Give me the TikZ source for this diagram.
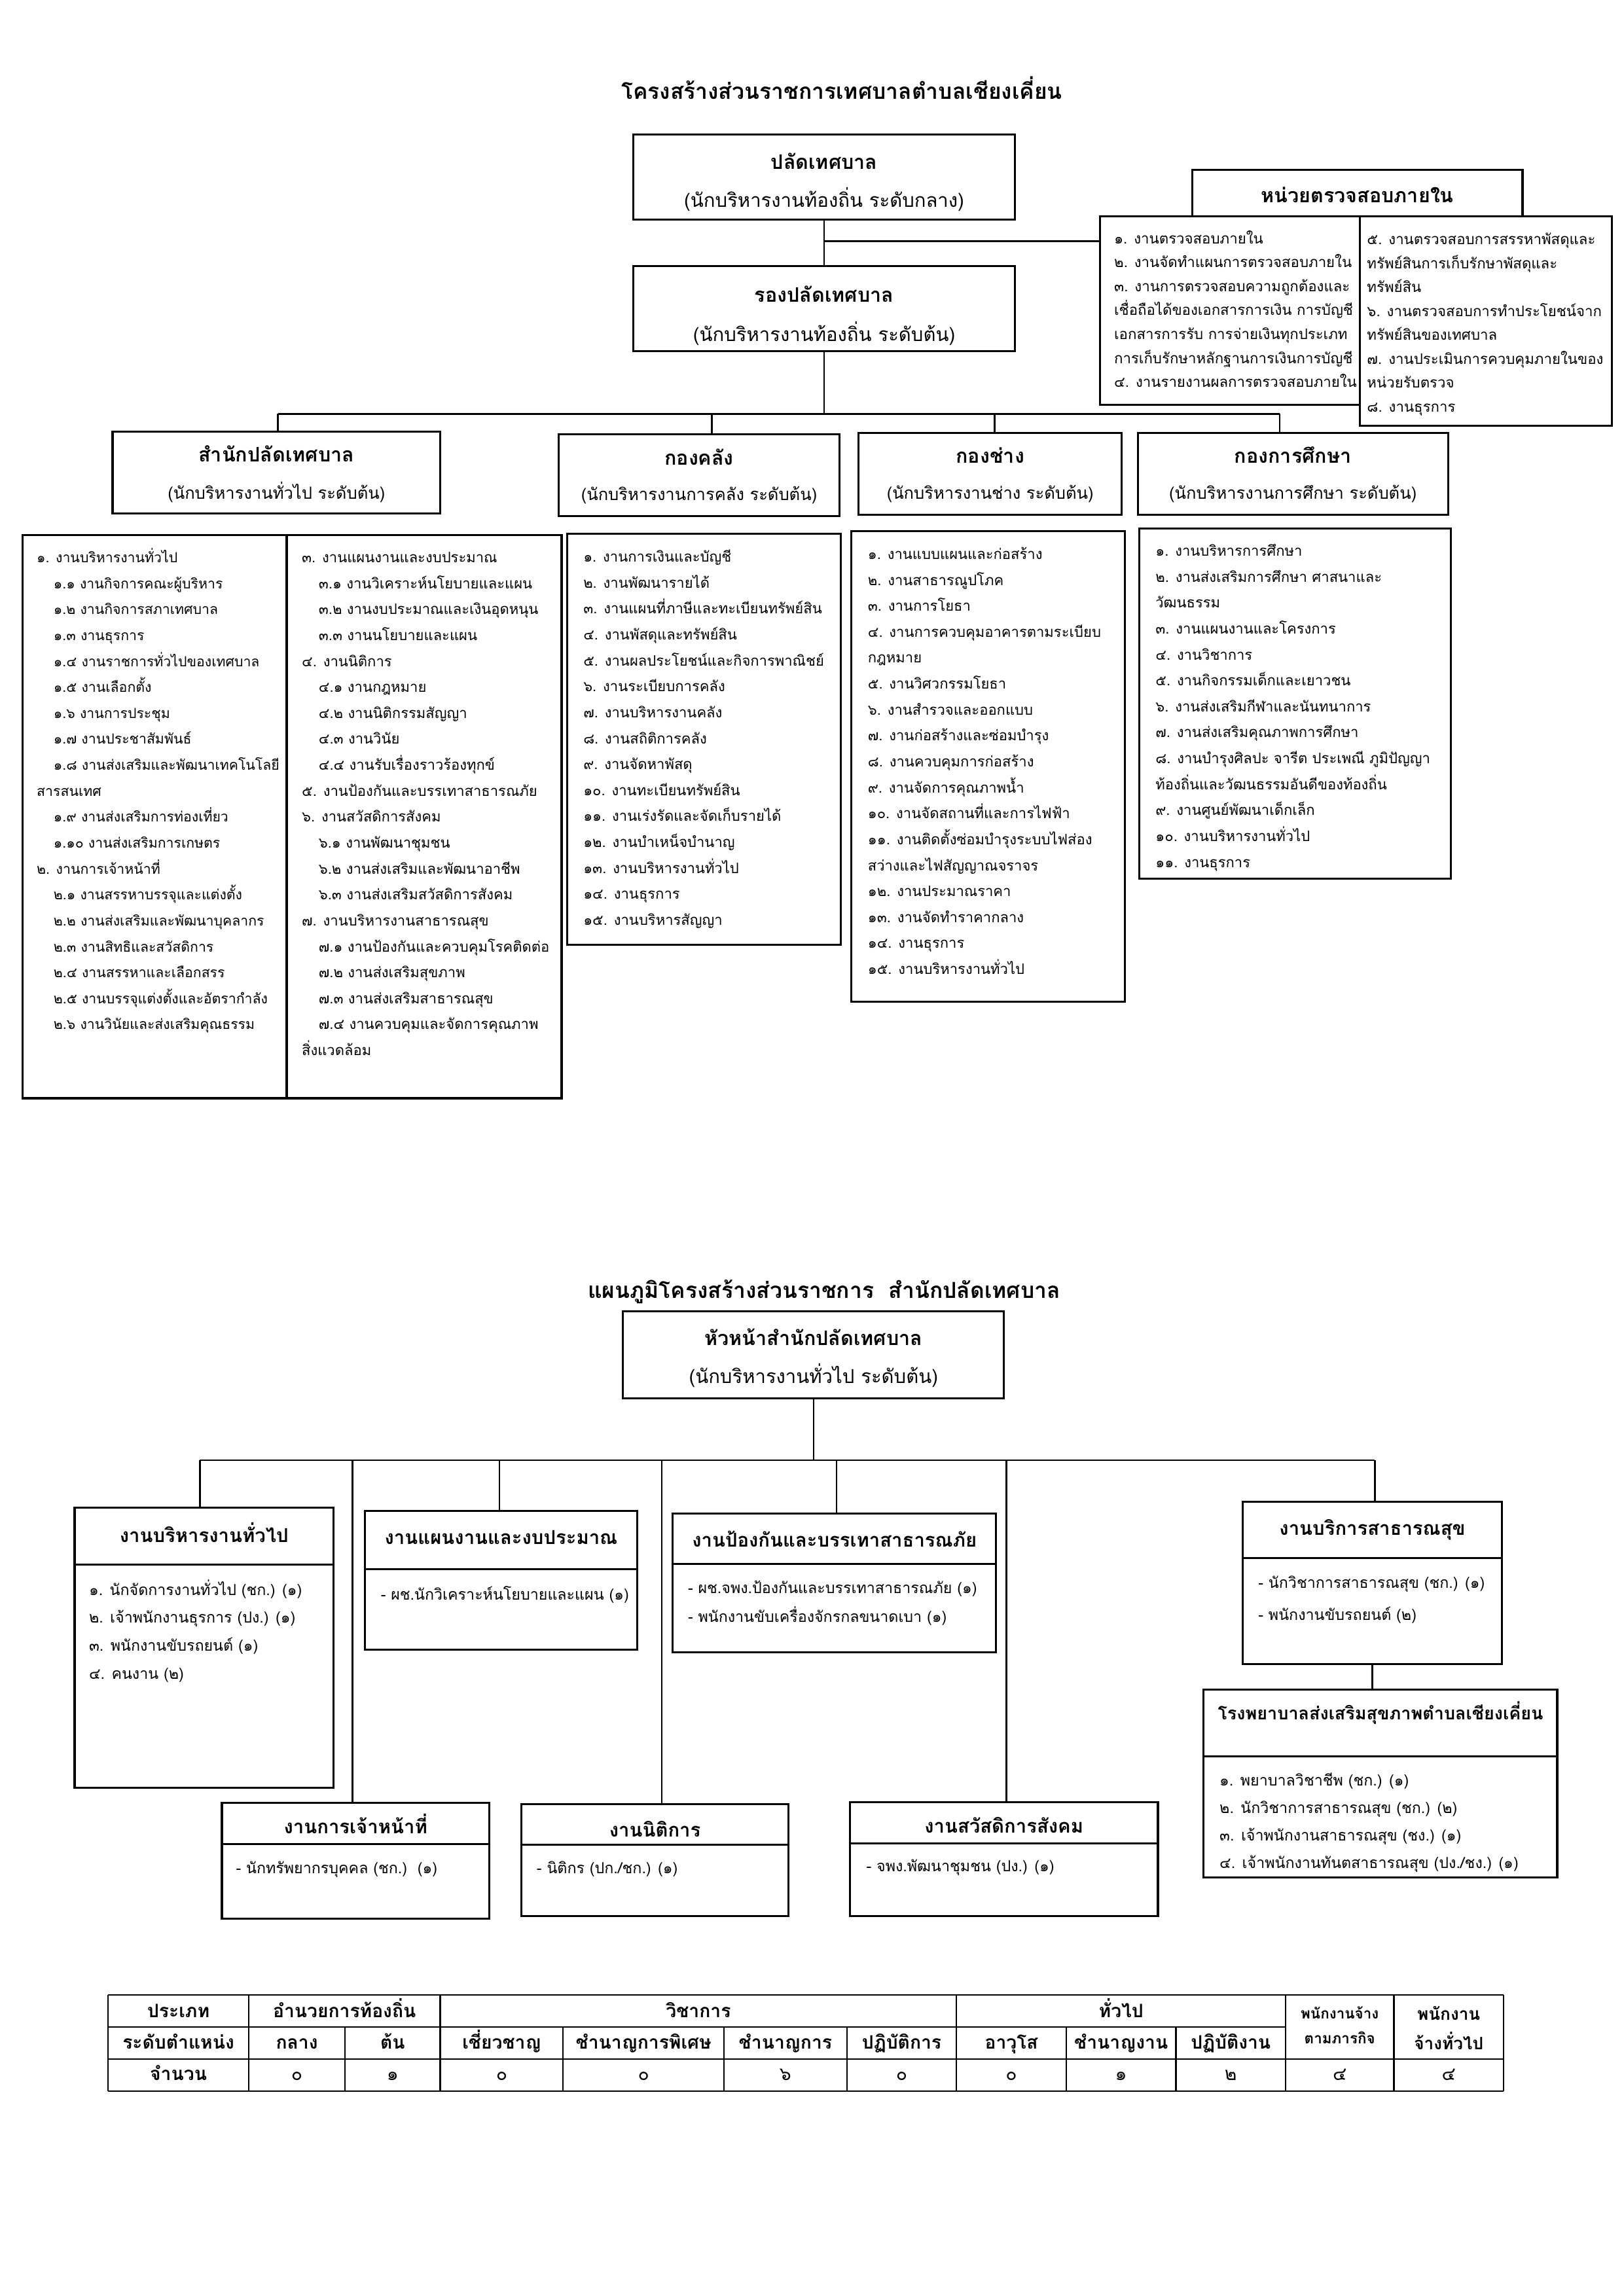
\documentclass[tikz,border=0pt]{standalone}
\usepackage{fontspec}
\setmainfont[Script=Thai]{Loma}
\usetikzlibrary{fit}
\newcommand\ftitle{\fontsize{8.1}{10}\selectfont\bfseries}
\newcommand\fhead{\fontsize{7.35}{9}\selectfont\bfseries}
\newcommand\fheadb{\fontsize{7.05}{9}\selectfont\bfseries}
\newcommand\fsubt{\fontsize{7.05}{9}\selectfont}
\newcommand\fsubd{\fontsize{6.15}{8}\selectfont}
\newcommand\flist{\fontsize{5.3}{9.55}\selectfont}
\newcommand\flists{\fontsize{5.12}{9.55}\selectfont}
\newcommand\faud{\fontsize{5.35}{8.8}\selectfont}
\newcommand\ftab{\fontsize{6.8}{8}\selectfont\bfseries}
\newcommand\ftabn{\fontsize{6.8}{8}\selectfont}
\newcommand\firstl{\rule{0pt}{7pt}}
\newcommand\ind{\hspace*{6.2pt}}
\begin{document}
\begin{tikzpicture}[x=0.018919cm,y=-0.018919cm,
  box/.style={draw,line width=0.75pt,inner sep=0pt},
  conn/.style={line width=0.6pt},
  tab/.style={line width=0.55pt},
  txt/.style={inner sep=0pt,anchor=base},
  lst/.style={inner sep=0pt,anchor=north west,align=left}]
\useasboundingbox (0,0) rectangle (1110,1570);

% ---------------- Section 1 ----------------
\node[txt,font=\ftitle] (title1) at (575.5,68) {โครงสร้างส่วนราชการเทศบาลตำบลเชียงเคี่ยน};

\node[box,fit={(433,92)(694,150)}] (palad) {};
\node[txt,font=\fhead] (paladT) at (563.5,115.7) {ปลัดเทศบาล};
\node[txt,font=\fsubt] (paladS) at (563.5,141.8) {(นักบริหารงานท้องถิ่น ระดับกลาง)};

\node[box,fit={(433,182)(694,240)}] (rong) {};
\node[txt,font=\fhead] (rongT) at (563.5,206.7) {รองปลัดเทศบาล};
\node[txt,font=\fsubt] (rongS) at (563.5,233.5) {(นักบริหารงานท้องถิ่น ระดับต้น)};

\node[box,fit={(752,148)(929.6,277)}] (auditL) {};
\node[box,fit={(929.6,148)(1102,291)}] (auditR) {};
\node[box,fill=white,fit={(815,116)(1041,148)}] (auditH) {};
\node[txt,font=\fhead] (auditHT) at (928,138.7) {หน่วยตรวจสอบภายใน};

\node[lst,font=\faud] (auditLT) at (761.4,153.3) {\firstl ๑. งานตรวจสอบภายใน\\%
๒. งานจัดทำแผนการตรวจสอบภายใน\\%
๓. งานการตรวจสอบความถูกต้องและ\\%
เชื่อถือได้ของเอกสารการเงิน การบัญชี\\%
เอกสารการรับ การจ่ายเงินทุกประเภท\\%
การเก็บรักษาหลักฐานการเงินการบัญชี\\%
๔. งานรายงานผลการตรวจสอบภายใน};

\node[lst,font=\faud] (auditRT) at (934.3,153.8) {\firstl ๕. งานตรวจสอบการสรรหาพัสดุและ\\%
ทรัพย์สินการเก็บรักษาพัสดุและ\\%
ทรัพย์สิน\\%
๖. งานตรวจสอบการทำประโยชน์จาก\\%
ทรัพย์สินของเทศบาล\\%
๗. งานประเมินการควบคุมภายในของ\\%
หน่วยรับตรวจ\\%
๘. งานธุรการ};

% departments
\node[box,fit={(77,295)(301,351)}] (sp) {};
\node[txt,font=\fhead] (spT) at (189,315.8) {สำนักปลัดเทศบาล};
\node[txt,font=\fsubd] (spS) at (189,341.3) {(นักบริหารงานทั่วไป ระดับต้น)};

\node[box,fit={(382,297)(574,353)}] (klang) {};
\node[txt,font=\fhead] (klangT) at (478,317.8) {กองคลัง};
\node[txt,font=\fsubd] (klangS) at (478,342.3) {(นักบริหารงานการคลัง ระดับต้น)};

\node[box,fit={(587,296)(767,352)}] (chang) {};
\node[txt,font=\fhead] (changT) at (677,316.8) {กองช่าง};
\node[txt,font=\fsubd] (changS) at (677,341.3) {(นักบริหารงานช่าง ระดับต้น)};

\node[box,fit={(778,296)(990,352)}] (suksa) {};
\node[txt,font=\fhead] (suksaT) at (884,316.8) {กองการศึกษา};
\node[txt,font=\fsubd] (suksaS) at (884,341.3) {(นักบริหารงานการศึกษา ระดับต้น)};

% connectors section 1
\coordinate (aud) at (752,165);
\draw[conn] (palad.south) -- (rong.north);
\draw[conn] (palad.south |- aud) -- (aud -| auditL.west);
\coordinate (barL) at (190,283);
\coordinate (barR) at (875,283);
\coordinate (d2) at (486.6,283);
\coordinate (d3) at (680,283);
\draw[conn] (rong.south) -- (rong.south |- barL);
\draw[conn] (barL) -- (barR);
\draw[conn] (barL) -- (barL |- sp.north);
\draw[conn] (d2) -- (d2 |- klang.north);
\draw[conn] (d3) -- (d3 |- chang.north);
\draw[conn] (barR) -- (barR |- suksa.north);

% lists
\node[box,fit={(15.4,366)(196,751)}] (spL1) {};
\node[box,fit={(196,366)(384,751)}] (spL2) {};
\node[lst,font=\flists] (spL1T) at (24.8,371.3) {\firstl ๑. งานบริหารงานทั่วไป\\%
\ind ๑.๑ งานกิจการคณะผู้บริหาร\\%
\ind ๑.๒ งานกิจการสภาเทศบาล\\%
\ind ๑.๓ งานธุรการ\\%
\ind ๑.๔ งานราชการทั่วไปของเทศบาล\\%
\ind ๑.๕ งานเลือกตั้ง\\%
\ind ๑.๖ งานการประชุม\\%
\ind ๑.๗ งานประชาสัมพันธ์\\%
\ind ๑.๘ งานส่งเสริมและพัฒนาเทคโนโลยี\\%
สารสนเทศ\\%
\ind ๑.๙ งานส่งเสริมการท่องเที่ยว\\%
\ind ๑.๑๐ งานส่งเสริมการเกษตร\\%
๒. งานการเจ้าหน้าที่\\%
\ind ๒.๑ งานสรรหาบรรจุและแต่งตั้ง\\%
\ind ๒.๒ งานส่งเสริมและพัฒนาบุคลากร\\%
\ind ๒.๓ งานสิทธิและสวัสดิการ\\%
\ind ๒.๔ งานสรรหาและเลือกสรร\\%
\ind ๒.๕ งานบรรจุแต่งตั้งและอัตรากำลัง\\%
\ind ๒.๖ งานวินัยและส่งเสริมคุณธรรม};
\node[lst,font=\flist] (spL2T) at (206,371.3) {\firstl ๓. งานแผนงานและงบประมาณ\\%
\ind ๓.๑ งานวิเคราะห์นโยบายและแผน\\%
\ind ๓.๒ งานงบประมาณและเงินอุดหนุน\\%
\ind ๓.๓ งานนโยบายและแผน\\%
๔. งานนิติการ\\%
\ind ๔.๑ งานกฎหมาย\\%
\ind ๔.๒ งานนิติกรรมสัญญา\\%
\ind ๔.๓ งานวินัย\\%
\ind ๔.๔ งานรับเรื่องราวร้องทุกข์\\%
๕. งานป้องกันและบรรเทาสาธารณภัย\\%
๖. งานสวัสดิการสังคม\\%
\ind ๖.๑ งานพัฒนาชุมชน\\%
\ind ๖.๒ งานส่งเสริมและพัฒนาอาชีพ\\%
\ind ๖.๓ งานส่งเสริมสวัสดิการสังคม\\%
๗. งานบริหารงานสาธารณสุข\\%
\ind ๗.๑ งานป้องกันและควบคุมโรคติดต่อ\\%
\ind ๗.๒ งานส่งเสริมสุขภาพ\\%
\ind ๗.๓ งานส่งเสริมสาธารณสุข\\%
\ind ๗.๔ งานควบคุมและจัดการคุณภาพ\\%
สิ่งแวดล้อม};

\node[box,fit={(387.7,365)(575,646)}] (klangL) {};
\node[lst,font=\flist] (klangLT) at (398.5,370.9) {\firstl ๑. งานการเงินและบัญชี\\%
๒. งานพัฒนารายได้\\%
๓. งานแผนที่ภาษีและทะเบียนทรัพย์สิน\\%
๔. งานพัสดุและทรัพย์สิน\\%
๕. งานผลประโยชน์และกิจการพาณิชย์\\%
๖. งานระเบียบการคลัง\\%
๗. งานบริหารงานคลัง\\%
๘. งานสถิติการคลัง\\%
๙. งานจัดหาพัสดุ\\%
๑๐. งานทะเบียนทรัพย์สิน\\%
๑๑. งานเร่งรัดและจัดเก็บรายได้\\%
๑๒. งานบำเหน็จบำนาญ\\%
๑๓. งานบริหารงานทั่วไป\\%
๑๔. งานธุรการ\\%
๑๕. งานบริหารสัญญา};

\node[box,fit={(582,363)(769,685)}] (changL) {};
\node[lst,font=\flist] (changLT) at (593,369) {\firstl ๑. งานแบบแผนและก่อสร้าง\\%
๒. งานสาธารณูปโภค\\%
๓. งานการโยธา\\%
๔. งานการควบคุมอาคารตามระเบียบ\\%
กฎหมาย\\%
๕. งานวิศวกรรมโยธา\\%
๖. งานสำรวจและออกแบบ\\%
๗. งานก่อสร้างและซ่อมบำรุง\\%
๘. งานควบคุมการก่อสร้าง\\%
๙. งานจัดการคุณภาพน้ำ\\%
๑๐. งานจัดสถานที่และการไฟฟ้า\\%
๑๑. งานติดตั้งซ่อมบำรุงระบบไฟส่อง\\%
สว่างและไฟสัญญาณจราจร\\%
๑๒. งานประมาณราคา\\%
๑๓. งานจัดทำราคากลาง\\%
๑๔. งานธุรการ\\%
๑๕. งานบริหารงานทั่วไป};

\node[box,fit={(779,361.5)(992,601)}] (suksaL) {};
\node[lst,font=\flist] (suksaLT) at (789.7,366.8) {\firstl ๑. งานบริหารการศึกษา\\%
๒. งานส่งเสริมการศึกษา ศาสนาและ\\%
วัฒนธรรม\\%
๓. งานแผนงานและโครงการ\\%
๔. งานวิชาการ\\%
๕. งานกิจกรรมเด็กและเยาวชน\\%
๖. งานส่งเสริมกีฬาและนันทนาการ\\%
๗. งานส่งเสริมคุณภาพการศึกษา\\%
๘. งานบำรุงศิลปะ จารีต ประเพณี ภูมิปัญญา\\%
ท้องถิ่นและวัฒนธรรมอันดีของท้องถิ่น\\%
๙. งานศูนย์พัฒนาเด็กเล็ก\\%
๑๐. งานบริหารงานทั่วไป\\%
๑๑. งานธุรการ};

% ---------------- Section 2 ----------------
\node[txt,font=\ftitle] (title2) at (563.5,887.5) {แผนภูมิโครงสร้างส่วนราชการ\ \ สำนักปลัดเทศบาล};
\node[box,fit={(426,896.6)(686.5,956)}] (head) {};
\node[txt,font=\fhead] (headT) at (556.2,919.8) {หัวหน้าสำนักปลัดเทศบาล};
\node[txt,font=\fsubt] (headS) at (556.2,946.1) {(นักบริหารงานทั่วไป ระดับต้น)};

% unit boxes (header part + body part)
\node[box,fit={(51,1031)(228,1070)}] (gen) {};
\node[box,fit={(51,1070)(228,1222.5)}] (genB) {};
\node[txt,font=\fheadb] (genT) at (139.5,1054.5) {งานบริหารงานทั่วไป};
\node[lst,font={\fontsize{5.6}{10.35}\selectfont}] (genI) at (60.5,1077.3) {\firstl ๑. นักจัดการงานทั่วไป (ชก.) (๑)\\%
๒. เจ้าพนักงานธุรการ (ปง.) (๑)\\%
๓. พนักงานขับรถยนต์ (๑)\\%
๔. คนงาน (๒)};

\node[box,fit={(249.5,1033)(435.7,1073)}] (plan) {};
\node[box,fit={(249.5,1073)(435.7,1128)}] (planB) {};
\node[txt,font=\fheadb] (planT) at (342.6,1056.2) {งานแผนงานและงบประมาณ};
\node[lst,font={\fontsize{5.6}{10.35}\selectfont}] (planI) at (260,1080.8) {\firstl - ผช.นักวิเคราะห์นโยบายและแผน (๑)};

\node[box,fit={(460,1035)(681,1069.4)}] (pong) {};
\node[box,fit={(460,1069.4)(681,1130)}] (pongB) {};
\node[txt,font=\fheadb] (pongT) at (570.5,1057.8) {งานป้องกันและบรรเทาสาธารณภัย};
\node[lst,font={\fontsize{5.6}{10.46}\selectfont}] (pongI) at (470,1076.3) {\firstl - ผช.จพง.ป้องกันและบรรเทาสาธารณภัย (๑)\\%
- พนักงานขับเครื่องจักรกลขนาดเบา (๑)};

\node[box,fit={(849.5,1027)(1027,1065.5)}] (bor) {};
\node[box,fit={(849.5,1065.5)(1027,1137.7)}] (borB) {};
\node[txt,font=\fheadb] (borT) at (938.3,1049.8) {งานบริการสาธารณสุข};
\node[lst,font={\fontsize{5.6}{11.8}\selectfont}] (borI) at (860,1072.7) {\firstl - นักวิชาการสาธารณสุข (ชก.) (๑)\\%
- พนักงานขับรถยนต์ (๒)};

\node[box,fit={(823,1155.4)(1064.7,1201)}] (rph) {};
\node[box,fit={(823,1201)(1064.7,1283.7)}] (rphB) {};
\node[txt,font={\fontsize{6.5}{8}\selectfont\bfseries}] (rphT) at (943.9,1176) {โรงพยาบาลส่งเสริมสุขภาพตำบลเชียงเคี่ยน};
\node[lst,font={\fontsize{5.6}{10.1}\selectfont}] (rphI) at (833.5,1207.9) {\firstl ๑. พยาบาลวิชาชีพ (ชก.) (๑)\\%
๒. นักวิชาการสาธารณสุข (ชก.) (๒)\\%
๓. เจ้าพนักงานสาธารณสุข (ชง.) (๑)\\%
๔. เจ้าพนักงานทันตสาธารณสุข (ปง./ชง.) (๑)};

\node[box,fit={(151.7,1232.8)(334.5,1260.8)}] (kj) {};
\node[box,fit={(151.7,1260.8)(334.5,1311.8)}] (kjB) {};
\node[txt,font=\fheadb] (kjT) at (243.1,1254) {งานการเจ้าหน้าที่};
\node[lst,font={\fontsize{5.6}{10}\selectfont}] (kjI) at (161,1267.9) {\firstl - นักทรัพยากรบุคคล (ชก.)\ \ (๑)};

\node[box,fit={(356.5,1233.8)(539,1261.4)}] (nit) {};
\node[box,fit={(356.5,1261.4)(539,1310)}] (nitB) {};
\node[txt,font=\fheadb] (nitT) at (447.8,1256.2) {งานนิติการ};
\node[lst,font={\fontsize{5.6}{10}\selectfont}] (nitI) at (366.6,1267.9) {\firstl - นิติกร (ปก./ชก.) (๑)};

\node[box,fit={(581,1232.4)(791.7,1260.4)}] (sw) {};
\node[box,fit={(581,1260.4)(791.7,1310)}] (swB) {};
\node[txt,font=\fheadb] (swT) at (686.4,1253.5) {งานสวัสดิการสังคม};
\node[lst,font={\fontsize{5.6}{10}\selectfont}] (swI) at (592,1266.4) {\firstl - จพง.พัฒนาชุมชน (ปง.) (๑)};

% connectors section 2
\coordinate (b2L) at (136.7,998.4);
\coordinate (b2R) at (940,998.4);
\coordinate (e2) at (241,998.4);
\coordinate (e3) at (341.5,998.4);
\coordinate (e4) at (452.4,998.4);
\coordinate (e5) at (572,998.4);
\coordinate (e6) at (688,998.4);
\draw[conn] (head.south) -- (head.south |- b2L);
\draw[conn] (b2L) -- (b2R);
\draw[conn] (b2L) -- (b2L |- gen.north);
\draw[conn] (e2) -- (e2 |- kj.north);
\draw[conn] (e3) -- (e3 |- plan.north);
\draw[conn] (e4) -- (e4 |- nit.north);
\draw[conn] (e5) -- (e5 |- pong.north);
\draw[conn] (e6) -- (e6 |- sw.north);
\draw[conn] (b2R) -- (b2R |- bor.north);
\draw[conn] (borB.south) -- (borB.south |- rph.north);

% ---------------- Table ----------------
\foreach \x in {74,170,301,654,879,953,1028} \draw[tab] (\x,1364) -- (\x,1430);
\foreach \x in {236,385,495,579,729,804} \draw[tab] (\x,1386) -- (\x,1430);
\draw[tab] (74,1364) -- (1028,1364);
\draw[tab] (74,1386) -- (879,1386);
\draw[tab] (74,1408) -- (1028,1408);
\draw[tab] (74,1430) -- (1028,1430);

\foreach \x/\t [count=\i] in {122/ประเภท,235.5/อำนวยการท้องถิ่น,477.5/วิชาการ,766.5/ทั่วไป}
  \node[txt,font=\ftab] (ra\i) at (\x,1379.4) {\t};
\node[txt,font={\fontsize{5.4}{7}\selectfont\bfseries}] (rpj1) at (916,1380.3) {พนักงานจ้าง};
\node[txt,font={\fontsize{5.4}{7}\selectfont\bfseries}] (rpj2) at (916,1397.3) {ตามภารกิจ};
\node[txt,font={\fontsize{6.3}{7}\selectfont\bfseries}] (rpt1) at (990.5,1381.3) {พนักงาน};
\node[txt,font={\fontsize{6.3}{7}\selectfont\bfseries}] (rpt2) at (990.5,1401.3) {จ้างทั่วไป};
\foreach \x/\t [count=\i] in {122/ระดับตำแหน่ง,203/กลาง,268.5/ต้น,343/เชี่ยวชาญ,440/ชำนาญการพิเศษ,537/ชำนาญการ,616.5/ปฏิบัติการ,691.5/อาวุโส,766.5/ชำนาญงาน,841.5/ปฏิบัติงาน}
  \node[txt,font=\ftab] (rb\i) at (\x,1400.9) {\t};
\node[txt,font=\ftab] (rc0) at (122,1422.4) {จำนวน};
\foreach \x/\t [count=\i] in {203/๐,268.5/๑,343/๐,440/๐,537/๖,616.5/๐,691.5/๐,766.5/๑,841.5/๒,916/๔,990.5/๔}
  \node[txt,font=\ftabn] (rc\i) at (\x,1422.4) {\t};
\end{tikzpicture}
\end{document}
